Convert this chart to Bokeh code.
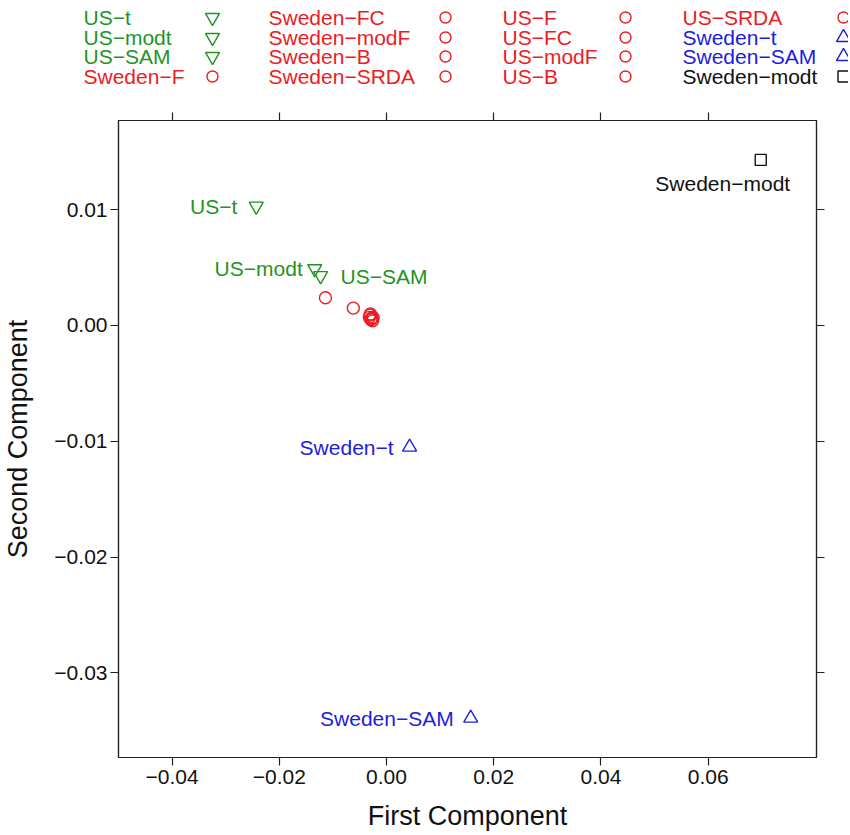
from bokeh.plotting import figure
from bokeh.models import ColumnDataSource, Range1d, LinearAxis, FixedTicker, CustomJSTickFormatter
from bokeh.embed import file_html
from bokeh.resources import INLINE
from bokeh.core.properties import value

# ---------------- data ----------------
methods = ["US-t", "US-modt", "US-SAM", "Sweden-F", "Sweden-FC", "Sweden-modF",
           "Sweden-B", "Sweden-SRDA", "US-F", "US-FC", "US-modF", "US-B",
           "US-SRDA", "Sweden-t", "Sweden-SAM", "Sweden-modt"]
first_component = [-0.0243, -0.0134, -0.0123, -0.0114, -0.0031, -0.0028,
                   -0.0026, -0.0030, -0.0062, -0.0025, -0.0032, -0.0027,
                   -0.0029, 0.0043, 0.0157, 0.0698]
second_component = [0.0103, 0.0049, 0.0043, 0.0024, 0.0009, 0.0006,
                     0.0004, 0.0010, 0.0015, 0.0007, 0.0007, 0.0006,
                     0.0005, -0.0105, -0.0339, 0.0143]
groups = ["green", "green", "green", "red", "red", "red", "red", "red",
          "red", "red", "red", "red", "red", "blue", "blue", "black"]
labelled = ["US-t", "US-modt", "US-SAM", "Sweden-t", "Sweden-SAM", "Sweden-modt"]
x_ticks = [-0.04, -0.02, 0.00, 0.02, 0.04, 0.06]
y_ticks = [-0.03, -0.02, -0.01, 0.00, 0.01]

# ---------------- styles ----------------
colors = {"green": "#1f941f", "red": "#ec1c24", "blue": "#1c1ce0", "black": "#111111"}
markers = {"green": "inverted_triangle", "red": "circle", "blue": "triangle", "black": "square"}
msizes = {"green": 14, "red": 12, "blue": 14, "black": 11}
leg_sizes = {"green": 14, "red": 11, "blue": 14, "black": 11}
# label placement (align, x offset px, y offset px)
label_place = {"US-t": ("right", -19, 0), "US-modt": ("right", -12, 0),
               "US-SAM": ("left", 20, 1), "Sweden-t": ("right", -16, 0),
               "Sweden-SAM": ("right", -17, 0), "Sweden-modt": ("center", -38, 24)}
FONT = "Liberation Sans"
MINUS = "\u2212"

def disp(s):
    return s.replace("-", MINUS)

W = 848
LEG_H = 90
TOTAL_H = 834

# ---------------- main plot ----------------
p = figure(width=W, height=TOTAL_H - LEG_H,
           x_range=Range1d(-0.0500, 0.0802), y_range=Range1d(-0.0373, 0.0177),
           output_backend="svg", toolbar_location=None,
           min_border_left=118, min_border_right=W - 816, min_border_top=120 - LEG_H,
           min_border_bottom=TOTAL_H - 757)
p.grid.visible = False
p.outline_line_color = "#222222"
p.outline_line_width = 1.2
p.background_fill_color = "white"
p.border_fill_color = "white"

fmt = CustomJSTickFormatter(code="return (tick < -1e-12 ? '\u2212' : '') + Math.abs(tick).toFixed(2);")
blank = CustomJSTickFormatter(code="return '';")

def style_axis(ax, ticks, labels=True):
    ax.ticker = FixedTicker(ticks=ticks)
    ax.minor_tick_line_color = None
    ax.major_tick_in = 0
    ax.major_tick_out = 8
    ax.major_tick_line_color = "#222222"
    ax.major_tick_line_width = 1.2
    ax.axis_line_color = "#222222"
    ax.axis_line_width = 1.2
    if labels:
        ax.formatter = fmt
        ax.major_label_text_font = FONT
        ax.major_label_text_font_size = "21px"
        ax.major_label_text_color = "#111111"
        ax.axis_label_text_font = FONT
        ax.axis_label_text_font_size = "27px"
        ax.axis_label_text_font_style = "normal"
        ax.axis_label_text_color = "#111111"
    else:
        ax.formatter = blank
        ax.major_label_text_font_size = "2px"
        ax.major_label_text_color = None
        ax.major_label_standoff = 0
        ax.axis_label = None

bx = p.xaxis[0]
ly = p.yaxis[0]
style_axis(bx, x_ticks)
style_axis(ly, y_ticks)
bx.axis_label = "First Component"
ly.axis_label = "Second Component"
bx.major_label_standoff = 4
bx.axis_label_standoff = 14
ly.major_label_standoff = 3
ly.axis_label_standoff = 18

top_ax = LinearAxis()
style_axis(top_ax, x_ticks, labels=False)
p.add_layout(top_ax, "above")
right_ax = LinearAxis()
style_axis(right_ax, y_ticks, labels=False)
p.add_layout(right_ax, "right")

# points, drawn group by group
for g in ["red", "green", "blue", "black"]:
    idx = [i for i, gg in enumerate(groups) if gg == g]
    src = ColumnDataSource(dict(x=[first_component[i] for i in idx],
                                y=[second_component[i] for i in idx]))
    p.scatter("x", "y", source=src, marker=markers[g], size=msizes[g],
              fill_color=None, line_color=colors[g], line_width=1.4)

# point labels
for name in labelled:
    i = methods.index(name)
    align, dx, dy = label_place[name]
    src = ColumnDataSource(dict(x=[first_component[i]], y=[second_component[i]], t=[disp(name)]))
    p.text("x", "y", text="t", source=src, text_align=align, text_baseline="middle",
           x_offset=dx, y_offset=dy, text_font=value(FONT), text_font_size="21px",
           text_color=colors[groups[i]])

# ---------------- legend (key above the panel) ----------------
leg = figure(width=W, height=LEG_H, x_range=Range1d(0, W), y_range=Range1d(LEG_H, 0),
             output_backend="svg", toolbar_location=None, min_border=0,
             x_axis_type=None, y_axis_type=None)
leg.outline_line_color = None
leg.grid.visible = False

col_text_x = [83, 268, 502, 682]
col_sym_x = [212, 445, 625, 843]
row_y = [17, 37, 56, 76]
for i, name in enumerate(methods):
    c, r = i // 4, i % 4
    g = groups[i]
    leg.text(x=[col_text_x[c]], y=[row_y[r]], text=[disp(name)], text_align="left",
             text_baseline="middle", text_font=value(FONT), text_font_size="21px",
             text_color=colors[g])
    leg.scatter(x=[col_sym_x[c]], y=[row_y[r]], marker=markers[g], size=leg_sizes[g],
                fill_color=None, line_color=colors[g], line_width=1.4)

open("out.html", "w").write(file_html([leg, p], INLINE))
